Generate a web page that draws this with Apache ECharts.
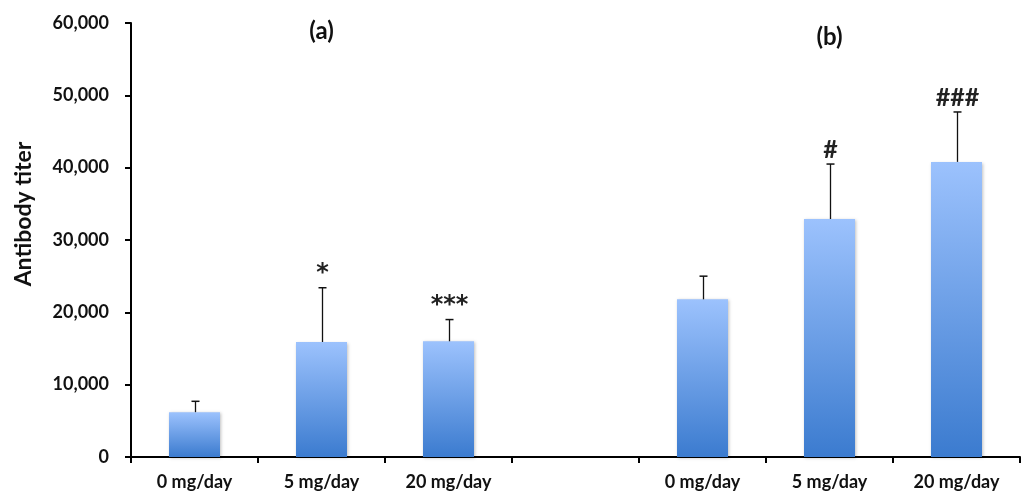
<!DOCTYPE html>
<html>
<head>
<meta charset="utf-8">
<script src="https://cdn.jsdelivr.net/npm/echarts@6/dist/echarts.min.js"></script>
<style>html,body{margin:0;padding:0;background:#fff}#c{width:1029px;height:493px}</style>
</head>
<body>
<div id="c"></div>
<script>
var categories = ['0 mg/day', '5 mg/day', '20 mg/day', '', '0 mg/day', '5 mg/day', '20 mg/day'];
var means = [6200, 15900, 16000, null, 21800, 32900, 40800];
var errorTops = [7700, 23400, 19000, null, 25000, 40500, 47700];
var marks = ['', '*', '***', '', '', '#', '###'];
var panelLabels = ['(a)', '(b)'];
var panelCategory = [1, 5];
var panelValue = [58900, 58000];
var yTicks = [0, 10000, 20000, 30000, 40000, 50000, 60000];
var yTitle = 'Antibody titer';

var chart = echarts.init(document.getElementById('c'));
var font = 'Lato, "Open Sans", sans-serif';

var errData = [];
for (var i = 0; i < categories.length; i++) {
  if (means[i] != null) errData.push([i, means[i], errorTops[i], marks[i]]);
}
var panelData = panelLabels.map(function (t, k) { return [panelCategory[k], panelValue[k], t]; });

chart.setOption({
  animation: false,
  grid: { left: 131, right: 9, top: 23, bottom: 36 },
  graphic: [{
    type: 'text',
    x: 24, y: 214,
    rotation: Math.PI / 2,
    style: {
      text: yTitle, textAlign: 'center', textVerticalAlign: 'middle',
      font: 'bold 23px Lato, "Open Sans", sans-serif', fill: '#111'
    }
  }],
  xAxis: {
    type: 'category',
    data: categories,
    axisLine: { lineStyle: { color: '#000', width: 2 } },
    axisTick: { show: true, length: 6, lineStyle: { color: '#000', width: 2 } },
    axisLabel: { color: '#111', fontFamily: font, fontWeight: 'bold', fontSize: 18, margin: 16 }
  },
  yAxis: {
    type: 'value',
    min: yTicks[0],
    max: yTicks[yTicks.length - 1],
    interval: 10000,
    axisLine: { show: true, lineStyle: { color: '#000', width: 2 } },
    axisTick: { show: true, length: 6, lineStyle: { color: '#000', width: 2 } },
    splitLine: { show: false },
    axisLabel: {
      color: '#111', fontFamily: font, fontWeight: 'bold', fontSize: 18, margin: 22,
      formatter: function (v) { return v.toLocaleString('en-US'); }
    }
  },
  series: [
    {
      type: 'bar',
      data: means,
      barWidth: 51,
      itemStyle: {
        color: new echarts.graphic.LinearGradient(0, 0, 0, 1, [
          { offset: 0, color: '#9CC2FD' },
          { offset: 1, color: '#3B7BCF' }
        ]),
        shadowColor: 'rgba(0,0,0,0.25)',
        shadowBlur: 3,
        shadowOffsetX: 1,
        shadowOffsetY: 1
      },
      z: 2
    },
    {
      type: 'custom',
      data: errData,
      z: 3,
      renderItem: function (params, api) {
        var top = api.coord([api.value(0), api.value(2)]);
        var base = api.coord([api.value(0), api.value(1)]);
        var x = Math.round(top[0]) + 0.5;
        var mark = errData[params.dataIndex][3];
        var isHash = mark.indexOf('#') >= 0;
        return {
          type: 'group',
          children: [
            { type: 'line', shape: { x1: x, y1: base[1], x2: x, y2: top[1] }, style: { stroke: '#111', lineWidth: 1.3 } },
            { type: 'line', shape: { x1: x - 4, y1: top[1], x2: x + 4, y2: top[1] }, style: { stroke: '#111', lineWidth: 1.5 } },
            {
              type: 'text',
              style: {
                x: x, y: top[1] - 2,
                text: mark,
                textAlign: 'center', textVerticalAlign: 'bottom',
                font: isHash ? 'bold 25px Lato, sans-serif' : 'bold 24px "DejaVu Sans", sans-serif',
                fill: '#222'
              }
            }
          ]
        };
      }
    },
    {
      type: 'custom',
      data: panelData,
      z: 3,
      renderItem: function (params, api) {
        var p = api.coord([api.value(0), api.value(1)]);
        return {
          type: 'text',
          style: {
            x: p[0], y: p[1], text: panelData[params.dataIndex][2],
            textAlign: 'center', textVerticalAlign: 'middle',
            font: 'bold 24px Lato, "Open Sans", sans-serif', fill: '#111'
          }
        };
      }
    }
  ]
});
</script>
</body>
</html>
